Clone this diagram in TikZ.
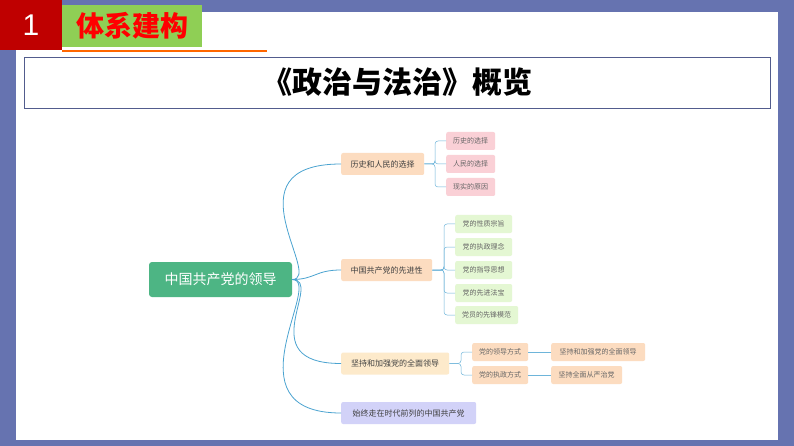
\documentclass[tikz,border=0pt]{standalone}
\usepackage{fontspec}
\newfontfamily\cjk{Noto Sans CJK SC}
\newfontfamily\sans{Liberation Sans}
\definecolor{frameblue}{HTML}{6673B0}
\definecolor{rootgreen}{HTML}{4DB584}
\definecolor{headgreen}{HTML}{8FCF55}
\definecolor{linkblue}{HTML}{4AA3D0}
\definecolor{peach}{HTML}{FCDCC0}
\definecolor{cream}{HTML}{FDEACB}
\definecolor{lilac}{HTML}{D2D2F8}
\definecolor{pink}{HTML}{FAD0D6}
\definecolor{mint}{HTML}{E4F7D3}
\tikzset{
  topic/.style={rounded corners=2pt,anchor=west,inner sep=0pt,minimum height=22pt,font=\cjk\fontsize{8}{8}\selectfont,text=black!75},
  leaf/.style={rounded corners=2pt,anchor=west,inner sep=0pt,minimum height=18pt,font=\cjk\fontsize{7}{7}\selectfont,text=black!60},
  link/.style={linkblue,line width=0.8pt},
  twig/.style={linkblue!80,line width=0.5pt,rounded corners=3pt}
}
\begin{document}
\begin{tikzpicture}[x=1pt,y=-1pt]
\useasboundingbox (0,0) rectangle (794,446);
\fill[frameblue] (0,0) rectangle (794,446);
\fill[white] (16,12) rectangle (778,440);

% header
\fill[red!75!black] (0,0) rectangle (62,50);
\node[text=white,font=\sans\fontsize{30}{30}\selectfont] (num) at (31,25) {1};
\fill[headgreen] (62,5) rectangle (202,47);
\node[text=red,font=\cjk\bfseries\fontsize{28}{28}\selectfont] (head) at (132,26) {体系建构};
\draw[orange!80!red,line width=1.5pt] (62,51) -- (267,51);
\draw[frameblue!80!black,line width=0.8pt] (24,57) rectangle (770,108);
\node[font=\cjk\bfseries\fontsize{30}{30}\selectfont] (title) at (397,82) {《政治与法治》概览};

% root
\node[fill=rootgreen,rounded corners=3pt,text=white,minimum width=143pt,minimum height=35pt,font=\cjk\fontsize{14}{14}\selectfont] (root) at (220.5,279.5) {中国共产党的领导};

% main topics
\node[topic,fill=peach,minimum width=83pt] (hist) at (341,164) {历史和人民的选择};
\node[topic,fill=peach,minimum width=91pt] (adv) at (341,270) {中国共产党的先进性};
\node[topic,fill=cream,minimum width=108pt] (lead) at (341,363.5) {坚持和加强党的全面领导};
\node[topic,fill=lilac,minimum width=135pt] (time) at (341,413) {始终走在时代前列的中国共产党};

\coordinate (r) at (292,279.5);
\draw[link] (r) .. controls (325,279.5) and (225,164) .. (hist.west);
\draw[link] (r) .. controls (315,279.5) and (315,270) .. (adv.west);
\draw[link] (r) .. controls (325,279.5) and (250,363.5) .. (lead.west);
\draw[link] (r) .. controls (325,279.5) and (225,413) .. (time.west);

% leaves of hist
\foreach \t [count=\i] in {历史的选择,人民的选择,现实的原因}{
  \node[leaf,fill=pink,minimum width=49pt] (h\i) at (446,118+23*\i) {\t};
  \draw[twig] (hist.east) -- (435,164) |- (h\i.west);
}
% leaves of adv
\foreach \t [count=\i] in {党的性质宗旨,党的执政理念,党的指导思想,党的先进法宝}{
  \node[leaf,fill=mint,minimum width=57pt] (a\i) at (455,201+23*\i) {\t};
  \draw[twig] (adv.east) -- (444,270) |- (a\i.west);
}
\node[leaf,fill=mint,minimum width=63pt] (a5) at (455,315) {党员的先锋模范};
\draw[twig] (adv.east) -- (444,270) |- (a5.west);

% leaves of lead
\node[leaf,fill=peach,minimum width=56pt] (l1) at (472,352) {党的领导方式};
\node[leaf,fill=peach,minimum width=56pt] (l2) at (472,375) {党的执政方式};
\draw[twig] (lead.east) -- (461,363.5) |- (l1.west);
\draw[twig] (lead.east) -- (461,363.5) |- (l2.west);
\node[leaf,fill=peach,minimum width=94pt] (m1) at (551,352) {坚持和加强党的全面领导};
\node[leaf,fill=peach,minimum width=71pt] (m2) at (551,375) {坚持全面从严治党};
\draw[twig] (l1.east) -- (m1.west);
\draw[twig] (l2.east) -- (m2.west);
\end{tikzpicture}
\end{document}
